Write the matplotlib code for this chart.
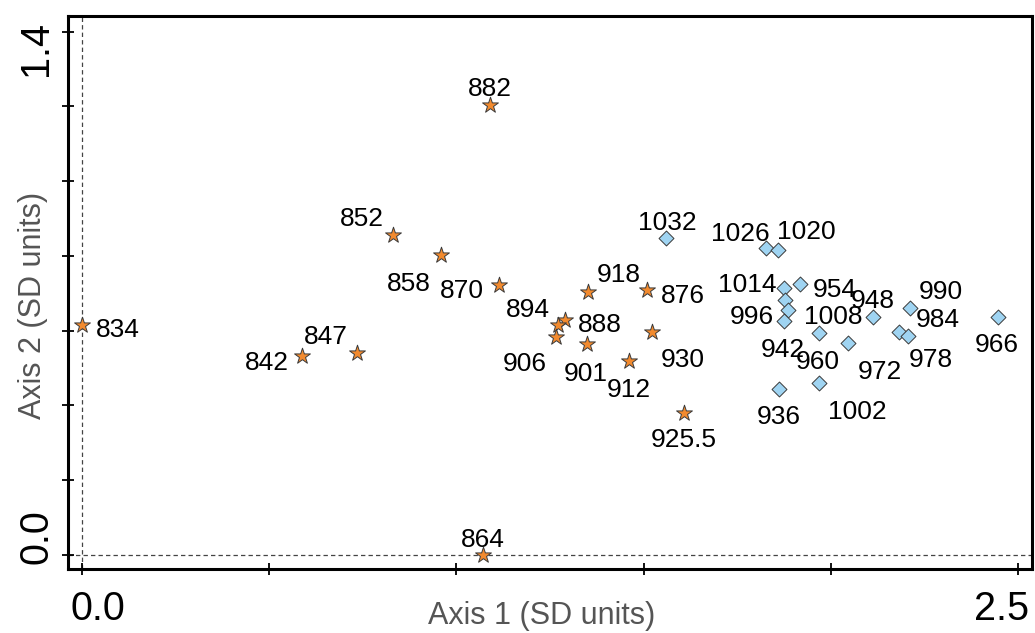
import matplotlib
matplotlib.use('Agg')
import matplotlib.pyplot as plt
from matplotlib.transforms import ScaledTranslation

plt.rcParams['font.family'] = ['Liberation Sans', 'DejaVu Sans']

# ---- data ----
star_labels = ['834', '842', '847', '852', '858', '864', '870', '876', '882',
               '888', '894', '901', '906', '912', '918', '925.5', '930']
star_x = [0.000, 0.588, 0.735, 0.831, 0.959, 1.071, 1.114, 1.509, 1.090,
          1.290, 1.271, 1.349, 1.266, 1.461, 1.352, 1.608, 1.522]
star_y = [0.615, 0.533, 0.540, 0.856, 0.803, 0.000, 0.722, 0.709, 1.204,
          0.629, 0.615, 0.564, 0.583, 0.519, 0.703, 0.379, 0.596]

diamond_labels = ['1032', '1026', '1020', '1014', '954', '1008', '996', '942',
                  '960', '972', '948', '990', '984', '978', '966', '936', '1002']
diamond_x = [1.560, 1.827, 1.859, 1.875, 1.918, 1.878, 1.886, 1.875,
             1.968, 2.046, 2.113, 2.212, 2.182, 2.206, 2.447, 1.862, 1.968]
diamond_y = [0.847, 0.821, 0.816, 0.714, 0.725, 0.682, 0.655, 0.626,
             0.594, 0.567, 0.636, 0.661, 0.596, 0.586, 0.636, 0.444, 0.460]

x_ticks = [0.0, 0.5, 1.0, 1.5, 2.0, 2.5]
x_tick_labels = ['0.0', '', '', '', '', '2.5']
y_ticks = [0.0, 0.2, 0.4, 0.6, 0.8, 1.0, 1.2, 1.4]
y_tick_labels = ['0.0', '', '', '', '', '', '', '1.4']

# ---- label placement (pixels: dx right, dy down, label centre vs point) ----
star_dx = [36, -35, -31, -31, -32, 0, -37, 36, 0, 35, -30, -1, -31, 0, 31, 0, 31]
star_dy = [3, 5, -18, -18, 27, -17, 4, 4, -18, 3, -17, 28, 25, 27, -19, 25, 26]
diamond_dx = [1, -26, 28, -37, 35, 48, -36, -1, -1, 32, 0, 31, 39, 23, -1, 0, 38]
diamond_dy = [-17, -16, -20, -5, 4, 15, 5, 27, 27, 27, -18, -18, -14, 22, 26, 26, 27]

star_color = '#F28A2E'
diamond_color = '#9FD4F2'
edge_color = '#3a3a3a'

fig = plt.figure(figsize=(10.35, 6.33), dpi=100)
ax = fig.add_axes([68 / 1035, 64 / 633, 964 / 1035, 553 / 633])

ax.set_xlim(-0.0374, 2.5374)
ax.set_ylim(-0.0383, 1.4423)

ax.axhline(0, color='#444444', lw=0.9, ls=(0, (3.5, 2.5)), zorder=1)
ax.axvline(0, color='#444444', lw=0.9, ls=(0, (3.5, 2.5)), zorder=1)

ax.scatter(star_x, star_y, marker='*', s=12 ** 2, c=star_color,
           edgecolors=edge_color, linewidths=0.7, zorder=3)
ax.scatter(diamond_x, diamond_y, marker='D', s=7.6 ** 2, c=diamond_color,
           edgecolors=edge_color, linewidths=0.7, zorder=3)

for lbl, x, y, dx, dy in zip(star_labels, star_x, star_y, star_dx, star_dy):
    ax.annotate(lbl, (x, y), xytext=(dx, -dy - 9), textcoords='offset pixels',
                ha='center', va='baseline', fontsize=19, color='black', zorder=4)
for lbl, x, y, dx, dy in zip(diamond_labels, diamond_x, diamond_y, diamond_dx, diamond_dy):
    ax.annotate(lbl, (x, y), xytext=(dx, -dy - 9), textcoords='offset pixels',
                ha='center', va='baseline', fontsize=19, color='black', zorder=4)

for s in ax.spines.values():
    s.set_linewidth(2.2)

ax.set_xticks(x_ticks, labels=x_tick_labels)
ax.set_yticks(y_ticks, labels=y_tick_labels)
ax.tick_params(direction='inout', length=8, width=1.3, labelsize=28.5, color='black')
ax.tick_params(axis='x', pad=11)
ax.tick_params(axis='y', pad=5)
for t in ax.get_yticklabels():
    t.set_rotation(90)
    t.set_va('center')

# shift outer tick labels inwards, as in the reference
xl = ax.get_xticklabels()
xl[0].set_transform(xl[0].get_transform() + ScaledTranslation(15.5 / 100, 0, fig.dpi_scale_trans))
xl[-1].set_transform(xl[-1].get_transform() + ScaledTranslation(-16.5 / 100, 0, fig.dpi_scale_trans))
yl = ax.get_yticklabels()
yl[0].set_transform(yl[0].get_transform() + ScaledTranslation(0, 17.7 / 100, fig.dpi_scale_trans))
yl[-1].set_transform(yl[-1].get_transform() + ScaledTranslation(0, -16.5 / 100, fig.dpi_scale_trans))

ax.set_xlabel('Axis 1 (SD units)', fontsize=22, color='#555555')
ax.xaxis.label.set_va('baseline')
ax.xaxis.set_label_coords((542 - 68) / 964, (569 - 624) / 553)
ax.set_ylabel('Axis 2 (SD units)', fontsize=22, color='#555555',
              rotation=90, rotation_mode='anchor', ha='center', va='baseline')
ax.yaxis.set_label_coords((41 - 68) / 964, (569 - 305) / 553)

fig.savefig('out.png', dpi=100)
